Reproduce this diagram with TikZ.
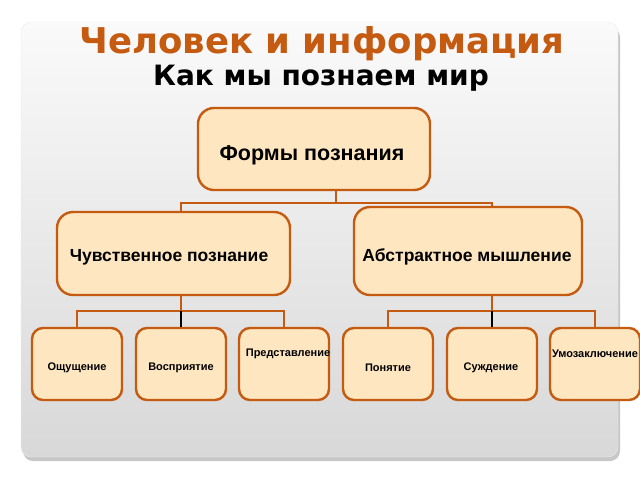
\documentclass[tikz,border=0pt]{standalone}
\usepackage{fontspec}
\setmainfont{Liberation Sans}
\newfontfamily\titlefont{DejaVu Sans}
\usetikzlibrary{positioning}
\definecolor{rust}{RGB}{197,90,17}
\definecolor{peach}{RGB}{253,230,192}
\definecolor{panelgray}{RGB}{216,216,216}

\tikzset{
  box/.style={draw=rust, line width=2.4pt, fill=peach, rounded corners=16pt},
  boxtext/.style={font=\bfseries\fontsize{17.5}{20}\selectfont, inner sep=0pt},
  leaf/.style={box, minimum width=90pt, minimum height=72pt, rounded corners=11pt},
  leaftext/.style={font=\bfseries\fontsize{11}{13}\selectfont, inner sep=0pt},
  link/.style={draw=rust, line width=2.4pt},
  midlink/.style={draw=black, line width=1.3pt}
}

\begin{document}
\begin{tikzpicture}[x=1pt,y=-1pt]
\useasboundingbox (0,0) rectangle (640,480);
\fill[black!22, rounded corners=10pt] (23,27) rectangle (620,461);
\shade[top color=white!98!black, bottom color=panelgray, draw=black!8, rounded corners=10pt] (21,22) rectangle (618,457);
\node[font=\titlefont\bfseries\fontsize{35.5}{40}\selectfont, text=rust, anchor=base] (title) at (322,53) {Человек и информация};
\node[font=\titlefont\bfseries\fontsize{28}{32}\selectfont, anchor=base] (subtitle) at (321,85) {Как мы познаем мир};

\node[box, minimum width=232pt, minimum height=82pt] (forms) at (314,149) {};
\node[boxtext, font=\bfseries\fontsize{21.5}{24}\selectfont] (forms-t) at (312,155) {Формы познания};
\node[box, minimum width=233pt, minimum height=83pt] (sense) at (173.5,253.5) {};
\node[boxtext] (sense-t) at (169,257) {Чувственное познание};
\node[box, minimum width=228pt, minimum height=88pt] (abstract) at (468,251) {};
\node[boxtext] (abstract-t) at (467,257) {Абстрактное мышление};

\foreach \nm/\cx/\tx/\ty/\txt in {sens/77/77/368/Ощущение, perc/181/181/368/Восприятие, repr/284/288/354/Представление, conc/388/388/368/Понятие, judg/492/491/368/Суждение, infer/595/595/354/Умозаключение}
{
\node[leaf] (\nm) at (\cx,364) {};
\node[leaftext] (\nm-t) at (\tx,\ty) {\txt};
}

\coordinate (bus1) at (336,203);
\draw[link] (bus1 |- forms.south) -- (bus1);
\draw[link] (perc |- sense.north) -- (perc |- bus1) -| (judg |- abstract.north);

\draw[link] (perc |- sense.south) -- ++(0,15) coordinate (bus2);
\draw[link] (sens.north) |- (bus2) -| (repr.north);
\draw[midlink] (bus2) -- (perc.north);

\draw[link] (judg |- abstract.south) -- ++(0,15) coordinate (bus3);
\draw[link] (conc.north) |- (bus3) -| (infer.north);
\draw[midlink] (bus3) -- (judg.north);
\end{tikzpicture}
\end{document}
